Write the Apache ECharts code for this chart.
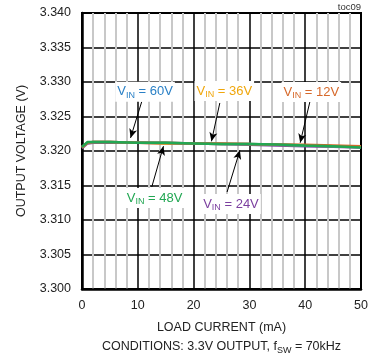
<!DOCTYPE html>
<html>
<head>
<meta charset="utf-8">
<script src="https://cdn.jsdelivr.net/npm/echarts@6/dist/echarts.min.js"></script>
<style>
  html, body { margin: 0; padding: 0; background: #fff; }
  #chart { width: 373px; height: 361px; }
</style>
</head>
<body>
<div id="chart"></div>
<script>
// load current (mA)
const loadCurrent = [0, 1, 2, 5, 10, 15, 20, 25, 30, 35, 40, 45, 50]
// output voltage (V) per input voltage
const vin12 = [3.3206, 3.3212, 3.3213, 3.3213, 3.3212, 3.3212, 3.3211, 3.3211, 3.3210, 3.32095, 3.3209, 3.3208, 3.3207]
const vin24 = [3.3204, 3.3211, 3.3212, 3.3212, 3.3212, 3.3211, 3.3211, 3.3210, 3.3209, 3.3208, 3.3207, 3.3206, 3.3205]
const vin36 = [3.3205, 3.3212, 3.3213, 3.3213, 3.3212, 3.3211, 3.3211, 3.3210, 3.3210, 3.3209, 3.3208, 3.3207, 3.3206]
const vin60 = [3.3206, 3.3212, 3.3213, 3.3213, 3.3212, 3.3212, 3.3211, 3.3210, 3.3210, 3.3209, 3.3208, 3.3207, 3.3206]
const vin48 = [3.3206, 3.3213, 3.3213, 3.3213, 3.3212, 3.3212, 3.3211, 3.3210, 3.3210, 3.32095, 3.3208, 3.3207, 3.3205]

// annotations: label, colour, label position, arrow from -> to (data units)
const notes = [
  { v: '60V', color: '#2a80c6', at: [11.3, 3.32859], from: [10.7, 3.32714], to: [8.7, 3.3219] },
  { v: '36V', color: '#f0a70c', at: [25.5, 3.32870], from: [24.7, 3.32696], to: [23.2, 3.3214] },
  { v: '12V', color: '#d6692b', at: [41.1, 3.32855], from: [41.0, 3.32768], to: [39.1, 3.3212] },
  { v: '48V', color: '#22a753', at: [13.0, 3.31319], from: [12.5, 3.31478], to: [14.6, 3.3207] },
  { v: '24V', color: '#7b3f9f', at: [26.7, 3.31232], from: [26.0, 3.31406], to: [28.3, 3.3201] }
]

const font = 'Liberation Sans, Arial, sans-serif'
const chart = echarts.init(document.getElementById('chart'))

let line = (name, data, color) => ({
  name: name,
  type: 'line',
  data: loadCurrent.map((x, i) => [x, data[i]]),
  showSymbol: false,
  smooth: false,
  lineStyle: { color: color, width: 2.5 },
  z: 3
})

let option = {
  animation: false,
  textStyle: { fontFamily: font },
  grid: { left: 82, right: 12, top: 13, bottom: 72, show: true, borderColor: '#000', borderWidth: 2 },
  xAxis: {
    type: 'value',
    min: 0,
    max: 50,
    interval: 10,
    name: 'LOAD CURRENT (mA)',
    nameLocation: 'middle',
    nameGap: 32,
    nameTextStyle: { fontSize: 12.5, color: '#222', fontFamily: font },
    axisLine: { lineStyle: { color: '#000', width: 2.5 } },
    axisTick: { show: false },
    axisLabel: { fontSize: 12.5, color: '#222', margin: 10, fontFamily: font },
    splitLine: { lineStyle: { color: '#000', width: 1.5 } },
    minorTick: { show: false, splitNumber: 5 },
    minorSplitLine: { show: true, lineStyle: { color: '#c8c8c8', width: 2 } }
  },
  yAxis: {
    type: 'value',
    min: 3.3,
    max: 3.34,
    interval: 0.005,
    name: 'OUTPUT VOLTAGE (V)',
    nameLocation: 'middle',
    nameGap: 54,
    nameTextStyle: { fontSize: 12.5, color: '#222', fontFamily: font },
    axisLine: { lineStyle: { color: '#000', width: 2.5 } },
    axisTick: { show: false },
    axisLabel: { fontSize: 12.5, color: '#222', margin: 11, fontFamily: font, formatter: (v) => v.toFixed(3) },
    splitLine: { lineStyle: { color: '#000', width: 1.5 } }
  },
  series: [
    line('VIN = 24V', vin24, '#7b3f9f'),
    line('VIN = 36V', vin36, '#f0a70c'),
    line('VIN = 60V', vin60, '#2a80c6'),
    line('VIN = 12V', vin12, '#d6692b'),
    line('VIN = 48V', vin48, '#22a753'),
    {
      type: 'line',
      data: [],
      markLine: {
        silent: true,
        symbol: ['none', 'arrow'],
        symbolSize: [6, 9],
        label: { show: false },
        lineStyle: { color: '#000', width: 1, type: 'solid' },
        data: notes.map((n) => [{ coord: n.from }, { coord: n.to }])
      },
      z: 5
    }
  ]
}
chart.setOption(option)

let sub = (color) => ({ fontSize: 9, fill: color, fontFamily: font, lineHeight: 16, verticalAlign: 'bottom', padding: [6, 0, 0, 0] })

let texts = notes.map((n) => {
  let p = chart.convertToPixel({ gridIndex: 0 }, n.at)
  return {
    type: 'text',
    x: p[0],
    y: p[1],
    z: 10,
    style: {
      text: '{a|V}{s|IN}{a| = ' + n.v + '}',
      align: 'center',
      verticalAlign: 'middle',
      backgroundColor: '#fff',
      padding: [2, 2, 2, 2],
      rich: {
        a: { fontSize: 13, fill: n.color, fontFamily: font, lineHeight: 16 },
        s: sub(n.color)
      }
    }
  }
})

// bottom conditions line, centred under the plot
let mid = chart.convertToPixel({ gridIndex: 0 }, [25, 3.3])
texts.push({
  type: 'text',
  x: mid[0],
  y: 347,
  style: {
    text: '{a|CONDITIONS: 3.3V OUTPUT, f}{s|SW}{a| = 70kHz}',
    align: 'center',
    verticalAlign: 'middle',
    rich: {
      a: { fontSize: 12.5, fill: '#222', fontFamily: font, lineHeight: 16 },
      s: sub('#222')
    }
  }
})
texts.push({
  type: 'text',
  right: 12,
  top: 2,
  style: { text: 'toc09', fontSize: 9.5, fill: '#333', fontFamily: font }
})
chart.setOption({ graphic: texts })
</script>
</body>
</html>
